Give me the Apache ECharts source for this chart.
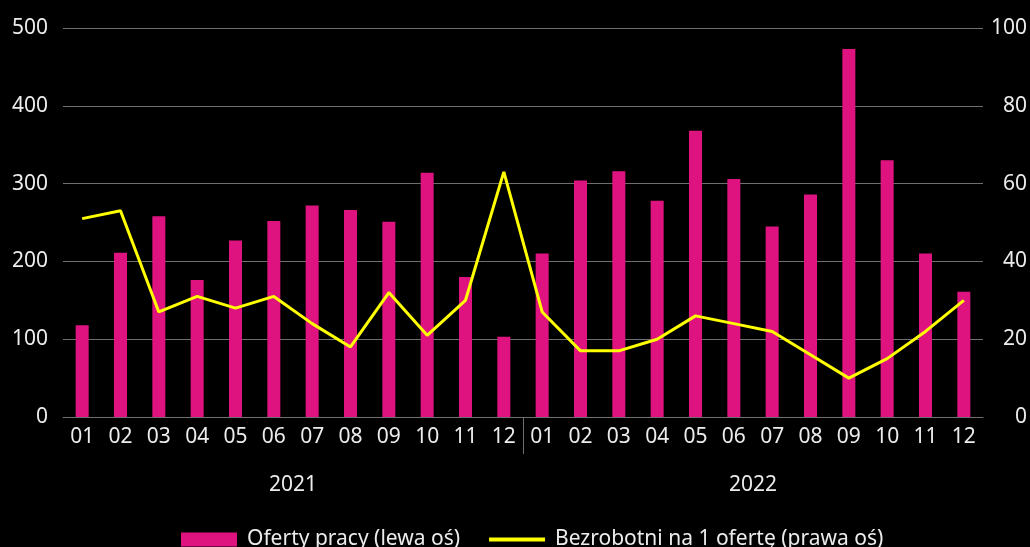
<!DOCTYPE html>
<html>
<head>
<meta charset="utf-8">
<script src="https://cdn.jsdelivr.net/npm/echarts@6/dist/echarts.min.js"></script>
<style>
  html, body { margin: 0; padding: 0; background: #000; }
  #chart { width: 1030px; height: 547px; }
</style>
</head>
<body>
<div id="chart"></div>
<script>
var months = ['01', '02', '03', '04', '05', '06', '07', '08', '09', '10', '11', '12',
  '01', '02', '03', '04', '05', '06', '07', '08', '09', '10', '11', '12']
var years = ['2021', '2022']
// Oferty pracy (lewa oś)
var offers = [118, 211, 258, 176, 227, 252, 272, 266, 251, 314, 180, 103,
  210, 304, 316, 278, 368, 306, 245, 286, 473, 330, 210, 161]
// Bezrobotni na 1 ofertę (prawa oś)
var perOffer = [51, 53, 27, 31, 28, 31, 24, 18, 32, 21, 30, 63,
  27, 17, 17, 20, 26, 24, 22, 16, 10, 15, 22, 30]

var textColor = '#ececec'
var gridColor = '#6f6f6f'
var font = 'Noto Sans'

var chart = echarts.init(document.getElementById('chart'))
chart.setOption({
  backgroundColor: '#000',
  textStyle: { fontFamily: font },
  animation: false,
  grid: [
    { left: 63, right: 47, top: 28, height: 389 },
    { left: 63, right: 47, top: 417, height: 37 }
  ],
  legend: {
    left: 176,
    top: 524,
    itemWidth: 56,
    itemHeight: 14,
    itemGap: 27,
    textStyle: { color: textColor, fontSize: 21, fontFamily: font, padding: [0, 0, 0, 5] },
    data: [
      { name: 'Oferty pracy (lewa oś)', icon: 'rect' },
      // hide the dot that the line legend draws by default
      {
        name: 'Bezrobotni na 1 ofertę (prawa oś)',
        itemStyle: { opacity: 0 },
        lineStyle: { color: '#FFFF00', width: 4 }
      }
    ]
  },
  xAxis: [
    {
      type: 'category',
      gridIndex: 0,
      data: months,
      axisLine: { lineStyle: { color: gridColor, width: 1 } },
      axisTick: { show: false },
      axisLabel: { color: textColor, fontSize: 21, margin: 10, interval: 0 }
    },
    {
      type: 'category',
      gridIndex: 1,
      data: years,
      axisLine: { show: false },
      axisTick: { show: false },
      splitLine: {
        show: true,
        showMinLine: false,
        showMaxLine: false,
        lineStyle: { color: gridColor, width: 1 }
      },
      axisLabel: { color: textColor, fontSize: 21, margin: 21 }
    }
  ],
  yAxis: [
    {
      type: 'value',
      gridIndex: 0,
      min: 0,
      max: 500,
      interval: 100,
      axisLine: { show: false },
      axisTick: { show: false },
      splitLine: { lineStyle: { color: gridColor, width: 1 } },
      axisLabel: { color: textColor, fontSize: 21, margin: 15 }
    },
    {
      type: 'value',
      gridIndex: 0,
      position: 'right',
      min: 0,
      max: 100,
      interval: 20,
      axisLine: { show: false },
      axisTick: { show: false },
      splitLine: { show: false },
      axisLabel: { color: textColor, fontSize: 21, margin: 44, align: 'right' }
    },
    {
      type: 'value',
      gridIndex: 1,
      show: false
    }
  ],
  series: [
    {
      name: 'Oferty pracy (lewa oś)',
      type: 'bar',
      xAxisIndex: 0,
      yAxisIndex: 0,
      barWidth: 13,
      itemStyle: { color: '#DE137F' },
      data: offers
    },
    {
      name: 'Bezrobotni na 1 ofertę (prawa oś)',
      type: 'line',
      xAxisIndex: 0,
      yAxisIndex: 1,
      symbol: 'none',
      lineStyle: { color: '#FFFF00', width: 3 },
      itemStyle: { color: '#FFFF00' },
      data: perOffer
    }
  ]
})
</script>
</body>
</html>
